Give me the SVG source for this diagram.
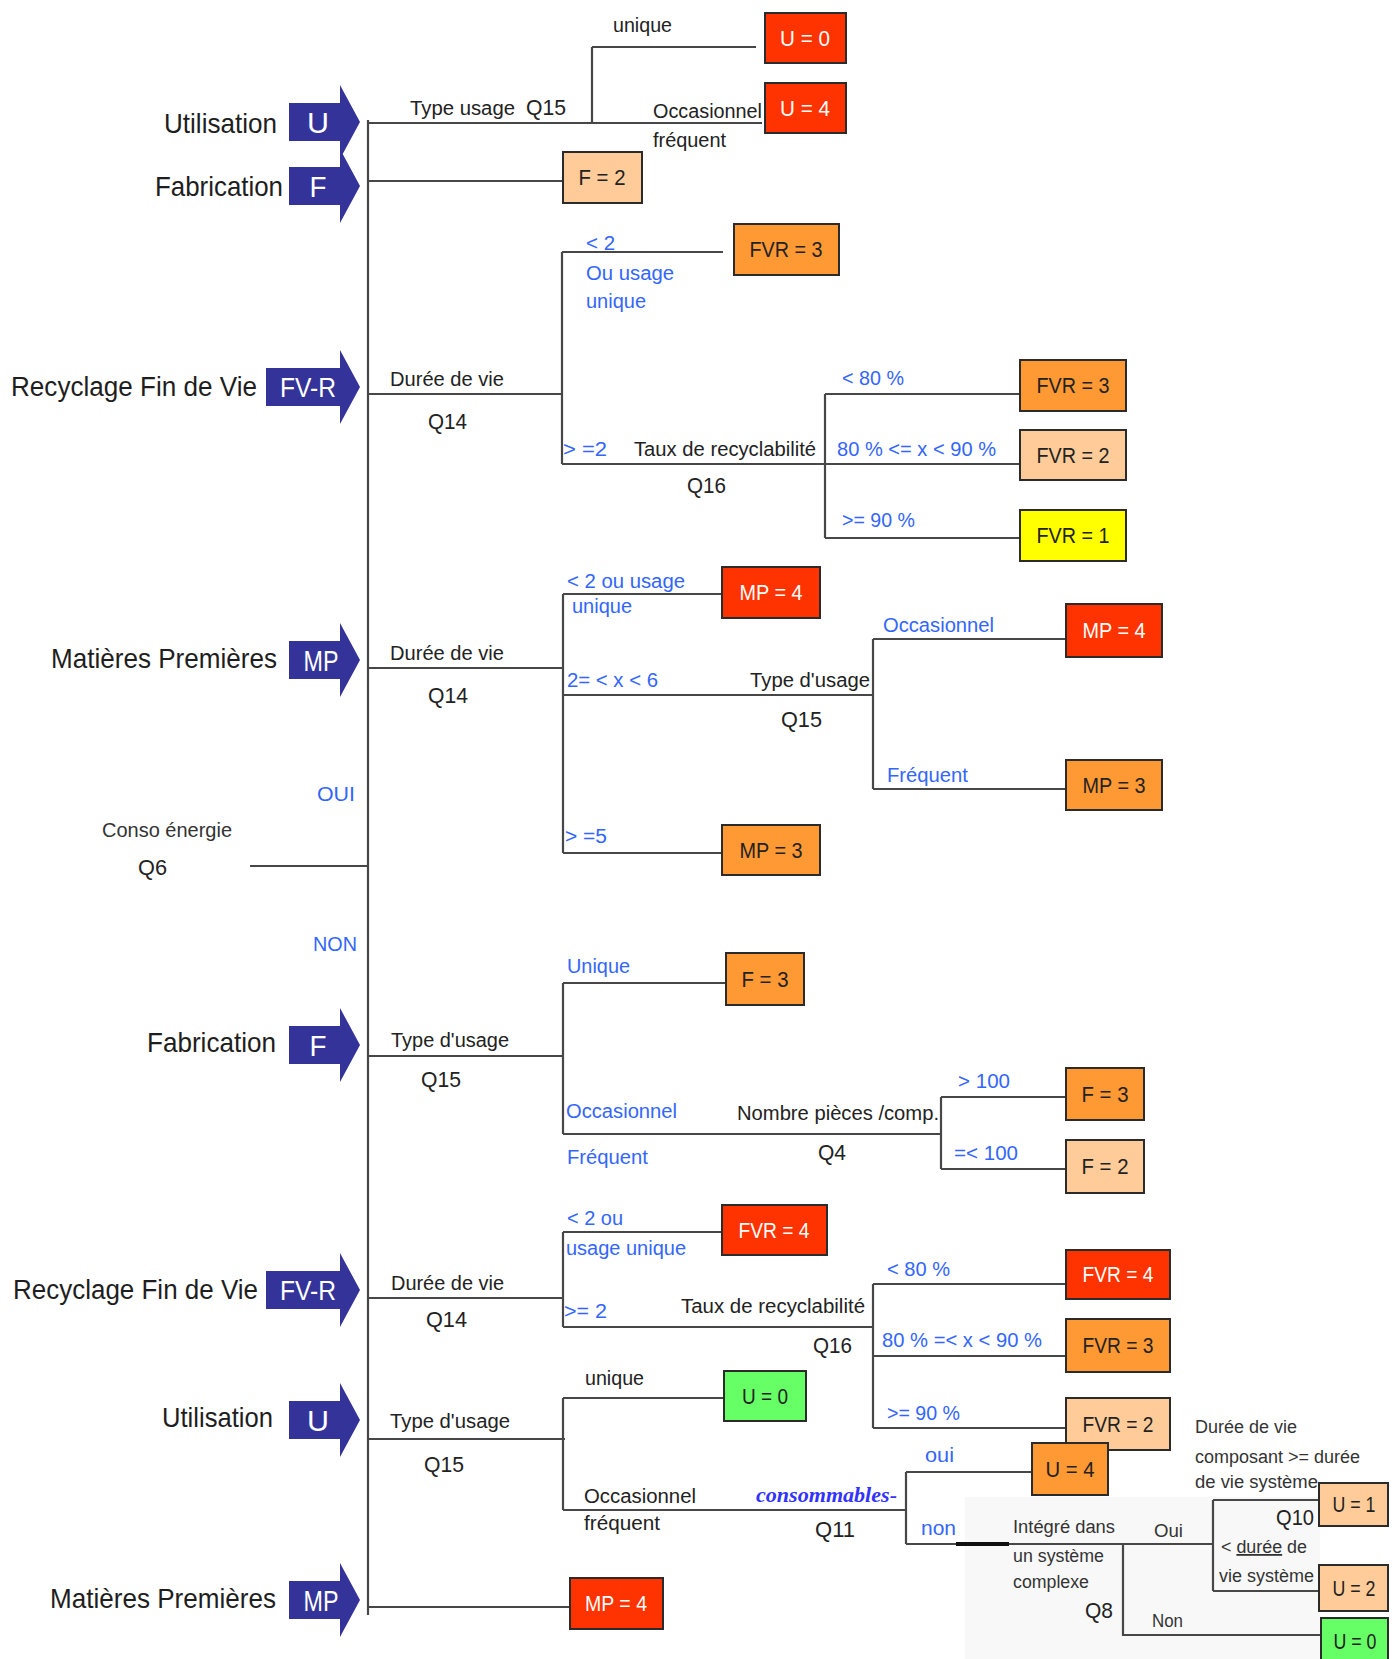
<svg xmlns="http://www.w3.org/2000/svg" width="1399" height="1659" viewBox="0 0 1399 1659">
<style>
text{font-family:"Liberation Sans",Arial,sans-serif}
.big{font-size:28px;fill:#1e1e1e}
.big2{font-size:27px;fill:#1e1e1e}
.t{font-size:20px;fill:#222}
.q{font-size:22px;fill:#222}
.bl{font-size:20px;fill:#3366ff}
.s{font-size:18px;fill:#333}
.ln{stroke:#474747;stroke-width:2.2;fill:none}
.box{stroke:#2b2b2b;stroke-width:2}
.red{fill:#ff3300}.org{fill:#ff9933}.pch{fill:#ffcc99}.yel{fill:#ffff00}.grn{fill:#66ff66}
.bt{font-size:22px;text-anchor:middle;fill:#222}
.wt{fill:#fff}
.arrow{fill:#333399}
.at{font-size:30px;fill:#fff;text-anchor:middle}
.at2{font-size:28px;fill:#fff;text-anchor:middle}
.cs{font-family:"Liberation Serif",serif;font-style:italic;font-weight:bold;font-size:22px;fill:#3333ff}
</style>
<rect width="1399" height="1659" fill="#fff"/>
<rect x="965" y="1497" width="355" height="162" fill="#f8f8f8"/>

<g id="connectors">
<path class="ln" d="M368 120V1615"/>
<path class="ln" d="M368 123H762M592 47V123M592 47H756"/>
<path class="ln" d="M368 181H563"/>
<path class="ln" d="M368 394H562M562 252V464M562 252H723M562 464H1020M825 394V538M825 394H1020M825 538H1020"/>
<path class="ln" d="M368 668H563M563 594V853M563 594H722M563 695H873M873 639V789M873 639H1066M873 789H1066M563 853H722"/>
<path class="ln" d="M250 866H368"/>
<path class="ln" d="M368 1056H563M563 983V1134M563 983H726M563 1134H941M941 1097V1169M941 1097H1066M941 1169H1066"/>
<path class="ln" d="M368 1298H563M563 1232V1327M563 1232H722M563 1327H873M873 1284V1428M873 1284H1066M873 1356H1066M873 1428H1066"/>
<path class="ln" d="M368 1439H565M563 1398V1510M563 1398H724M563 1510H906M906 1472V1544M906 1472H1032M906 1544H1213M1123 1544V1635H1321M1213 1500V1591M1213 1500H1319M1213 1591H1319"/>
<path d="M956 1544H1009" stroke="#111" stroke-width="4"/>
<path class="ln" d="M368 1607H570"/>
</g>

<g id="cat-u-top"><path class="arrow" d="M289 103H340V85L360 122L340 159V141H289Z"/><text class="at" x="318" y="133" textLength="22" lengthAdjust="spacingAndGlyphs">U</text><text class="big" x="164" y="133" textLength="113" lengthAdjust="spacingAndGlyphs">Utilisation</text></g>
<g id="cat-f-top"><path class="arrow" d="M289 167H340V149L360 186L340 223V205H289Z"/><text class="at" x="318" y="197" textLength="17" lengthAdjust="spacingAndGlyphs">F</text><text class="big" x="155" y="196" textLength="128" lengthAdjust="spacingAndGlyphs">Fabrication</text></g>
<g id="cat-fvr-top"><path class="arrow" d="M266 368H340V350L360 387L340 424V406H266Z"/><text class="at2" x="308" y="397" textLength="56" lengthAdjust="spacingAndGlyphs">FV-R</text><text class="big2" x="11" y="396" textLength="246" lengthAdjust="spacingAndGlyphs">Recyclage Fin de Vie</text></g>
<g id="cat-mp-top"><path class="arrow" d="M289 641H340V623L360 660L340 697V679H289Z"/><text class="at" x="321" y="671" textLength="35" lengthAdjust="spacingAndGlyphs">MP</text><text class="big" x="51" y="668" textLength="226" lengthAdjust="spacingAndGlyphs">Matières Premières</text></g>
<g id="cat-f-mid"><path class="arrow" d="M289 1026H340V1008L360 1045L340 1082V1064H289Z"/><text class="at" x="318" y="1056" textLength="17" lengthAdjust="spacingAndGlyphs">F</text><text class="big" x="147" y="1052" textLength="129" lengthAdjust="spacingAndGlyphs">Fabrication</text></g>
<g id="cat-fvr-low"><path class="arrow" d="M266 1271H340V1253L360 1290L340 1327V1309H266Z"/><text class="at2" x="308" y="1300" textLength="56" lengthAdjust="spacingAndGlyphs">FV-R</text><text class="big2" x="13" y="1299" textLength="245" lengthAdjust="spacingAndGlyphs">Recyclage Fin de Vie</text></g>
<g id="cat-u-low"><path class="arrow" d="M289 1401H340V1383L360 1420L340 1457V1439H289Z"/><text class="at" x="318" y="1431" textLength="22" lengthAdjust="spacingAndGlyphs">U</text><text class="big" x="162" y="1427" textLength="111" lengthAdjust="spacingAndGlyphs">Utilisation</text></g>
<g id="cat-mp-low"><path class="arrow" d="M289 1581H340V1563L360 1600L340 1637V1619H289Z"/><text class="at" x="321" y="1611" textLength="35" lengthAdjust="spacingAndGlyphs">MP</text><text class="big" x="50" y="1608" textLength="226" lengthAdjust="spacingAndGlyphs">Matières Premières</text></g>

<g id="labels">
<text class="t" x="410" y="115" textLength="105" lengthAdjust="spacingAndGlyphs">Type usage</text>
<text class="q" x="526" y="115" textLength="40" lengthAdjust="spacingAndGlyphs">Q15</text>
<text class="t" x="613" y="32" textLength="59" lengthAdjust="spacingAndGlyphs">unique</text>
<text class="t" x="653" y="118" textLength="109" lengthAdjust="spacingAndGlyphs">Occasionnel</text>
<text class="t" x="653" y="147" textLength="73" lengthAdjust="spacingAndGlyphs">fréquent</text>

<text class="t" x="390" y="386" textLength="114" lengthAdjust="spacingAndGlyphs">Durée de vie</text>
<text class="q" x="428" y="429" textLength="39" lengthAdjust="spacingAndGlyphs">Q14</text>
<text class="bl" x="586" y="250" textLength="29" lengthAdjust="spacingAndGlyphs">&lt; 2</text>
<text class="bl" x="586" y="280" textLength="88" lengthAdjust="spacingAndGlyphs">Ou usage</text>
<text class="bl" x="586" y="308" textLength="60" lengthAdjust="spacingAndGlyphs">unique</text>
<text class="bl" x="563" y="456" textLength="44" lengthAdjust="spacingAndGlyphs">&gt; =2</text>
<text class="t" x="634" y="456" textLength="182" lengthAdjust="spacingAndGlyphs">Taux de recyclabilité</text>
<text class="q" x="687" y="493" textLength="39" lengthAdjust="spacingAndGlyphs">Q16</text>
<text class="bl" x="842" y="385" textLength="62" lengthAdjust="spacingAndGlyphs">&lt; 80 %</text>
<text class="bl" x="837" y="456" textLength="159" lengthAdjust="spacingAndGlyphs">80 % &lt;= x &lt; 90 %</text>
<text class="bl" x="842" y="527" textLength="73" lengthAdjust="spacingAndGlyphs">&gt;= 90 %</text>

<text class="t" x="390" y="660" textLength="114" lengthAdjust="spacingAndGlyphs">Durée de vie</text>
<text class="q" x="428" y="703" textLength="40" lengthAdjust="spacingAndGlyphs">Q14</text>
<text class="bl" x="567" y="588" textLength="118" lengthAdjust="spacingAndGlyphs">&lt; 2 ou usage</text>
<text class="bl" x="572" y="613" textLength="60" lengthAdjust="spacingAndGlyphs">unique</text>
<text class="bl" x="567" y="687" textLength="91" lengthAdjust="spacingAndGlyphs">2= &lt; x &lt; 6</text>
<text class="t" x="750" y="687" textLength="120" lengthAdjust="spacingAndGlyphs">Type d'usage</text>
<text class="q" x="781" y="727" textLength="41" lengthAdjust="spacingAndGlyphs">Q15</text>
<text class="bl" x="883" y="632" textLength="111" lengthAdjust="spacingAndGlyphs">Occasionnel</text>
<text class="bl" x="887" y="782" textLength="81" lengthAdjust="spacingAndGlyphs">Fréquent</text>
<text class="bl" x="565" y="843" textLength="42" lengthAdjust="spacingAndGlyphs">&gt; =5</text>

<text class="bl" x="317" y="801" textLength="38" lengthAdjust="spacingAndGlyphs">OUI</text>
<text class="t" x="102" y="837" textLength="130" lengthAdjust="spacingAndGlyphs" style="fill:#333">Conso énergie</text>
<text class="q" x="138" y="875" textLength="29" lengthAdjust="spacingAndGlyphs">Q6</text>
<text class="bl" x="313" y="951" textLength="44" lengthAdjust="spacingAndGlyphs">NON</text>

<text class="t" x="391" y="1047" textLength="118" lengthAdjust="spacingAndGlyphs">Type d'usage</text>
<text class="q" x="421" y="1087" textLength="40" lengthAdjust="spacingAndGlyphs">Q15</text>
<text class="bl" x="567" y="973" textLength="63" lengthAdjust="spacingAndGlyphs">Unique</text>
<text class="bl" x="566" y="1118" textLength="111" lengthAdjust="spacingAndGlyphs">Occasionnel</text>
<text class="bl" x="567" y="1164" textLength="81" lengthAdjust="spacingAndGlyphs">Fréquent</text>
<text class="t" x="737" y="1120" textLength="202" lengthAdjust="spacingAndGlyphs">Nombre pièces /comp.</text>
<text class="q" x="818" y="1160" textLength="28" lengthAdjust="spacingAndGlyphs">Q4</text>
<text class="bl" x="958" y="1088" textLength="52" lengthAdjust="spacingAndGlyphs">&gt; 100</text>
<text class="bl" x="954" y="1160" textLength="64" lengthAdjust="spacingAndGlyphs">=&lt; 100</text>

<text class="t" x="391" y="1290" textLength="113" lengthAdjust="spacingAndGlyphs">Durée de vie</text>
<text class="q" x="426" y="1327" textLength="41" lengthAdjust="spacingAndGlyphs">Q14</text>
<text class="bl" x="567" y="1225" textLength="56" lengthAdjust="spacingAndGlyphs">&lt; 2 ou</text>
<text class="bl" x="566" y="1255" textLength="120" lengthAdjust="spacingAndGlyphs">usage unique</text>
<text class="bl" x="564" y="1318" textLength="43" lengthAdjust="spacingAndGlyphs">&gt;= 2</text>
<text class="t" x="681" y="1313" textLength="184" lengthAdjust="spacingAndGlyphs">Taux de recyclabilité</text>
<text class="q" x="813" y="1353" textLength="39" lengthAdjust="spacingAndGlyphs">Q16</text>
<text class="bl" x="887" y="1276" textLength="63" lengthAdjust="spacingAndGlyphs">&lt; 80 %</text>
<text class="bl" x="882" y="1347" textLength="160" lengthAdjust="spacingAndGlyphs">80 % =&lt; x &lt; 90 %</text>
<text class="bl" x="887" y="1420" textLength="73" lengthAdjust="spacingAndGlyphs">&gt;= 90 %</text>

<text class="t" x="390" y="1428" textLength="120" lengthAdjust="spacingAndGlyphs">Type d'usage</text>
<text class="q" x="424" y="1472" textLength="40" lengthAdjust="spacingAndGlyphs">Q15</text>
<text class="t" x="585" y="1385" textLength="59" lengthAdjust="spacingAndGlyphs">unique</text>
<text class="t" x="584" y="1503" textLength="112" lengthAdjust="spacingAndGlyphs">Occasionnel</text>
<text class="t" x="584" y="1530" textLength="76" lengthAdjust="spacingAndGlyphs">fréquent</text>
<text class="cs" x="756" y="1502" textLength="141" lengthAdjust="spacingAndGlyphs">consommables-</text>
<text class="q" x="815" y="1537" textLength="40" lengthAdjust="spacingAndGlyphs">Q11</text>
<text class="bl" x="925" y="1462" textLength="29" lengthAdjust="spacingAndGlyphs">oui</text>
<text class="bl" x="921" y="1535" textLength="35" lengthAdjust="spacingAndGlyphs">non</text>
<text class="s" x="1013" y="1533" textLength="102" lengthAdjust="spacingAndGlyphs">Intégré dans</text>
<text class="s" x="1013" y="1562" textLength="91" lengthAdjust="spacingAndGlyphs">un système</text>
<text class="s" x="1013" y="1588" textLength="76" lengthAdjust="spacingAndGlyphs">complexe</text>
<text class="q" x="1085" y="1618" textLength="28" lengthAdjust="spacingAndGlyphs">Q8</text>
<text class="s" x="1154" y="1537" textLength="29" lengthAdjust="spacingAndGlyphs">Oui</text>
<text class="s" x="1152" y="1627" textLength="31" lengthAdjust="spacingAndGlyphs">Non</text>
<text class="s" x="1195" y="1433" textLength="102" lengthAdjust="spacingAndGlyphs">Durée de vie</text>
<text class="s" x="1195" y="1463" textLength="165" lengthAdjust="spacingAndGlyphs">composant &gt;= durée</text>
<text class="s" x="1195" y="1488" textLength="123" lengthAdjust="spacingAndGlyphs">de vie système</text>
<text class="q" x="1276" y="1525" textLength="38" lengthAdjust="spacingAndGlyphs">Q10</text>
<text class="s" x="1221" y="1553" textLength="86" lengthAdjust="spacingAndGlyphs">&lt; <tspan text-decoration="underline">durée</tspan> de</text>
<text class="s" x="1219" y="1582" textLength="95" lengthAdjust="spacingAndGlyphs">vie système</text>
</g>

<g id="n-u0-top"><rect class="box red" x="765" y="13" width="81" height="50"/><text class="bt wt" x="805" y="46" textLength="50" lengthAdjust="spacingAndGlyphs">U = 0</text></g>
<g id="n-u4-top"><rect class="box red" x="765" y="83" width="81" height="50"/><text class="bt wt" x="805" y="116" textLength="50" lengthAdjust="spacingAndGlyphs">U = 4</text></g>
<g id="n-f2-top"><rect class="box pch" x="563" y="152" width="79" height="51"/><text class="bt" x="602" y="185" textLength="47" lengthAdjust="spacingAndGlyphs">F = 2</text></g>

<g id="n-fvr3-a"><rect class="box org" x="734" y="224" width="105" height="51"/><text class="bt" x="786" y="257" textLength="73" lengthAdjust="spacingAndGlyphs">FVR = 3</text></g>
<g id="n-fvr3-b"><rect class="box org" x="1020" y="360" width="106" height="51"/><text class="bt" x="1073" y="393" textLength="73" lengthAdjust="spacingAndGlyphs">FVR = 3</text></g>
<g id="n-fvr2-a"><rect class="box pch" x="1020" y="430" width="106" height="50"/><text class="bt" x="1073" y="463" textLength="73" lengthAdjust="spacingAndGlyphs">FVR = 2</text></g>
<g id="n-fvr1-a"><rect class="box yel" x="1020" y="510" width="106" height="51"/><text class="bt" x="1073" y="543" textLength="73" lengthAdjust="spacingAndGlyphs">FVR = 1</text></g>

<g id="n-mp4-a"><rect class="box red" x="722" y="567" width="98" height="51"/><text class="bt wt" x="771" y="600" textLength="63" lengthAdjust="spacingAndGlyphs">MP = 4</text></g>
<g id="n-mp4-b"><rect class="box red" x="1066" y="604" width="96" height="53"/><text class="bt wt" x="1114" y="638" textLength="63" lengthAdjust="spacingAndGlyphs">MP = 4</text></g>
<g id="n-mp3-b"><rect class="box org" x="1066" y="760" width="96" height="50"/><text class="bt" x="1114" y="793" textLength="63" lengthAdjust="spacingAndGlyphs">MP = 3</text></g>
<g id="n-mp3-a"><rect class="box org" x="722" y="825" width="98" height="50"/><text class="bt" x="771" y="858" textLength="63" lengthAdjust="spacingAndGlyphs">MP = 3</text></g>

<g id="n-f3-a"><rect class="box org" x="726" y="953" width="78" height="52"/><text class="bt" x="765" y="987" textLength="47" lengthAdjust="spacingAndGlyphs">F = 3</text></g>
<g id="n-f3-b"><rect class="box org" x="1066" y="1068" width="78" height="52"/><text class="bt" x="1105" y="1102" textLength="47" lengthAdjust="spacingAndGlyphs">F = 3</text></g>
<g id="n-f2-b"><rect class="box pch" x="1066" y="1140" width="78" height="53"/><text class="bt" x="1105" y="1174" textLength="47" lengthAdjust="spacingAndGlyphs">F = 2</text></g>

<g id="n-fvr4-a"><rect class="box red" x="722" y="1205" width="105" height="50"/><text class="bt wt" x="774" y="1238" textLength="71" lengthAdjust="spacingAndGlyphs">FVR = 4</text></g>
<g id="n-fvr4-b"><rect class="box red" x="1066" y="1250" width="104" height="49"/><text class="bt wt" x="1118" y="1282" textLength="71" lengthAdjust="spacingAndGlyphs">FVR = 4</text></g>
<g id="n-fvr3-c"><rect class="box org" x="1066" y="1319" width="104" height="53"/><text class="bt" x="1118" y="1353" textLength="71" lengthAdjust="spacingAndGlyphs">FVR = 3</text></g>
<g id="n-fvr2-c"><rect class="box pch" x="1066" y="1398" width="104" height="52"/><text class="bt" x="1118" y="1432" textLength="71" lengthAdjust="spacingAndGlyphs">FVR = 2</text></g>

<g id="n-u0-low"><rect class="box grn" x="724" y="1371" width="82" height="50"/><text class="bt" x="765" y="1404" textLength="46" lengthAdjust="spacingAndGlyphs">U = 0</text></g>
<g id="n-u4-low"><rect class="box org" x="1032" y="1443" width="76" height="52"/><text class="bt" x="1070" y="1477" textLength="49" lengthAdjust="spacingAndGlyphs">U = 4</text></g>
<g id="n-u1"><rect class="box pch" x="1319" y="1483" width="69" height="43"/><text class="bt" x="1354" y="1512" textLength="43" lengthAdjust="spacingAndGlyphs">U = 1</text></g>
<g id="n-u2"><rect class="box pch" x="1319" y="1565" width="69" height="46"/><text class="bt" x="1354" y="1596" textLength="43" lengthAdjust="spacingAndGlyphs">U = 2</text></g>
<g id="n-u0-end"><rect class="box grn" x="1321" y="1618" width="67" height="45"/><text class="bt" x="1355" y="1649" textLength="43" lengthAdjust="spacingAndGlyphs">U = 0</text></g>

<g id="n-mp4-low"><rect class="box red" x="570" y="1578" width="93" height="51"/><text class="bt wt" x="616" y="1611" textLength="62" lengthAdjust="spacingAndGlyphs">MP = 4</text></g>
</svg>
